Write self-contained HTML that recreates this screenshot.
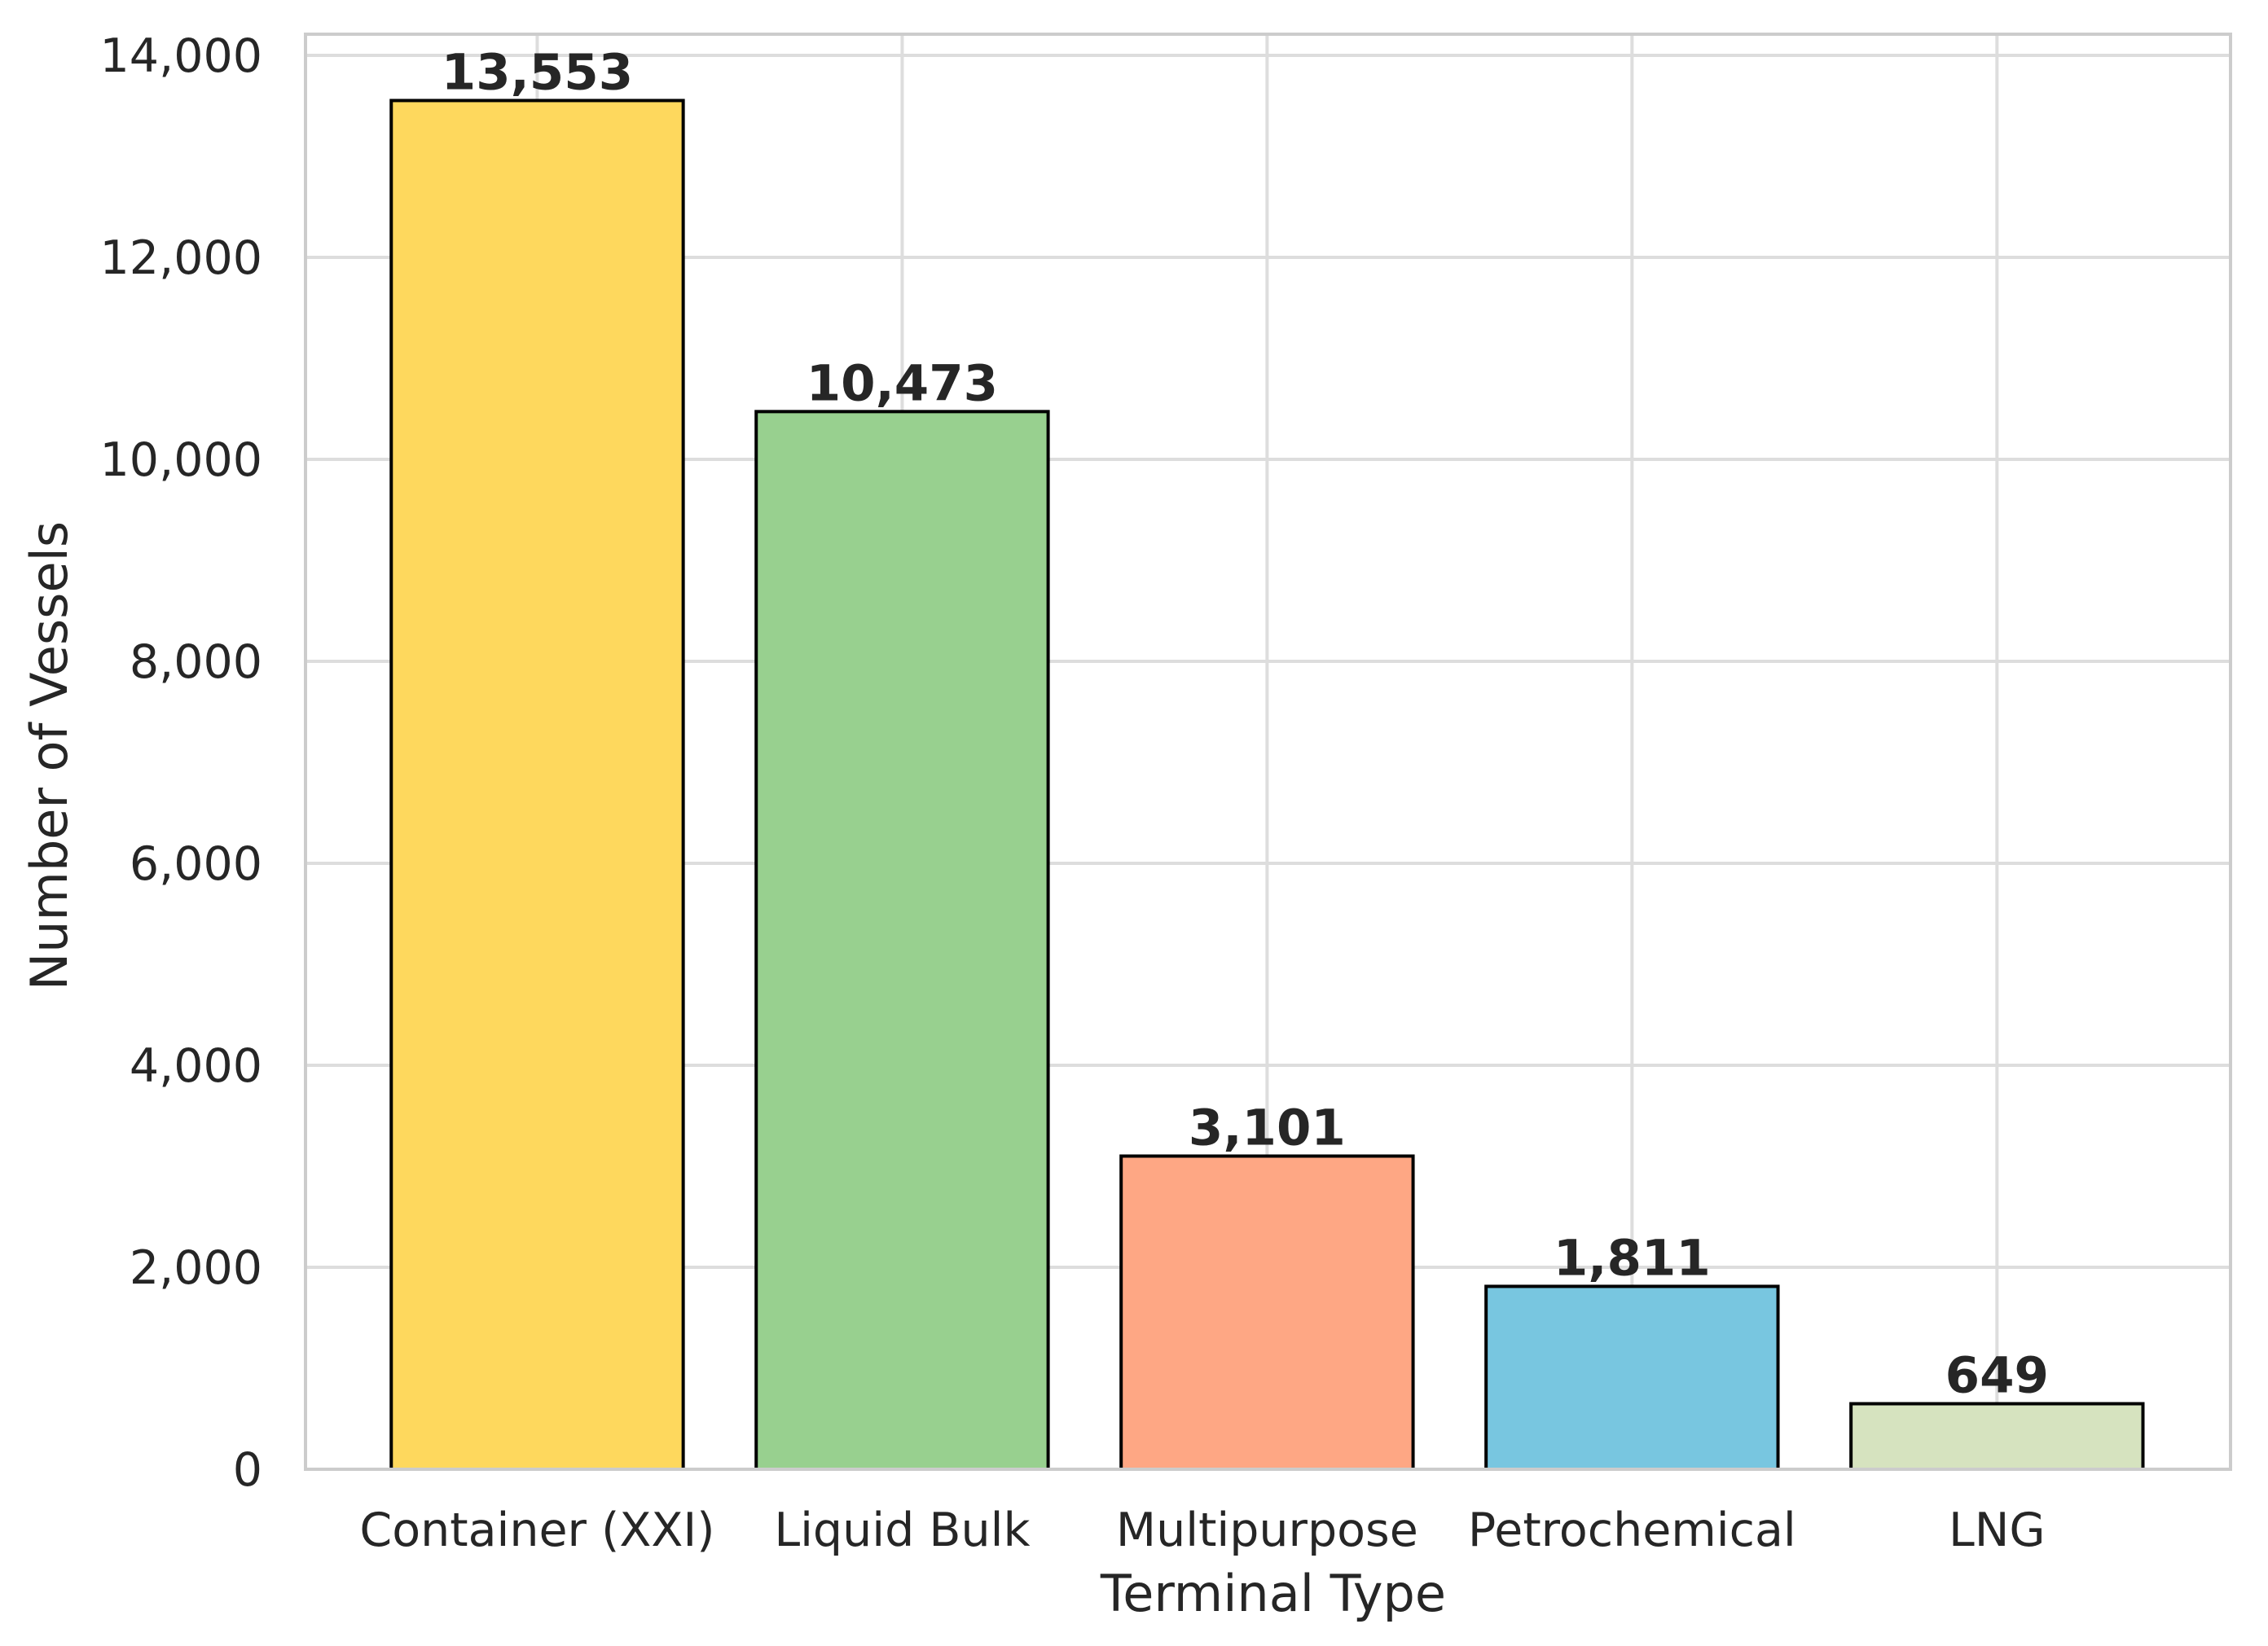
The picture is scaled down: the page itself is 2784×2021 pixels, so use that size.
<!DOCTYPE html>
<html><head><meta charset="utf-8"><style>
html,body{margin:0;padding:0;background:#fff}
svg{display:block;font-family:"DejaVu Sans","Liberation Sans",sans-serif}
</style></head><body>
<svg id="chart" width="2784" height="2021" viewBox="0 0 2784 2021">
<g id="grid"></g>
<g id="bars"></g>
<g id="labels"></g>
<rect x="375" y="42" width="2363" height="1762" fill="none" stroke="#cccccc" stroke-width="4"/>
<g id="yticks"></g>
<g id="xticks"></g>
<text x="1563" y="1978" font-size="62" fill="#262626" text-anchor="middle">Terminal Type</text>
<text x="0" y="0" font-size="62" fill="#262626" text-anchor="middle" transform="translate(82,928) rotate(-90)">Number of Vessels</text>
</svg>
<script>
const categories = ["Container (XXI)","Liquid Bulk","Multipurpose","Petrochemical","LNG"];
const values = [13553,10473,3101,1811,649];
const colors = ["#fed85d","#98d08f","#fea784","#78c6e0","#d6e3bf"];
const yTicks = [0,2000,4000,6000,8000,10000,12000,14000];
const NS="http://www.w3.org/2000/svg";
const L=375,R=2738,B=1804;
const xMin=-0.635,xMax=4.64;
const yMax=14000,yTop=68;
function xs(v){return L+(v-xMin)/(xMax-xMin)*(R-L);}
function ys(v){return B-(v/yMax)*(B-yTop);}
function mk(t,a,p){const e=document.createElementNS(NS,t);for(const k in a)e.setAttribute(k,a[k]);p.appendChild(e);return e;}
const fmt=v=>v.toLocaleString("en-US");
const grid=document.getElementById("grid"),bars=document.getElementById("bars"),labels=document.getElementById("labels"),yt=document.getElementById("yticks"),xt=document.getElementById("xticks");
yTicks.forEach(t=>{
  const l=mk("line",{x1:L,x2:R,y1:ys(t),y2:ys(t),stroke:"#dddddd","stroke-width":4},grid);
  
  
  const tx=mk("text",{x:322,y:ys(t)+20,"font-size":57,fill:"#262626","text-anchor":"end"},yt);
  tx.textContent=fmt(t);
  
  
});
categories.forEach((c,i)=>{
  const l=mk("line",{x1:xs(i),x2:xs(i),y1:42,y2:B,stroke:"#dddddd","stroke-width":4},grid);
  
  
  const w=(xs(0.4)-xs(-0.4));
  const r=mk("rect",{x:xs(i)-w/2,y:ys(values[i]),width:w,height:B-ys(values[i]),fill:colors[i],stroke:"#000","stroke-width":4},bars);
  
  
  const v=mk("text",{x:xs(i),y:ys(values[i])-14,"font-size":61,"font-weight":"bold",fill:"#262626","text-anchor":"middle"},labels);
  v.textContent=fmt(values[i]);
  
  
  const tx=mk("text",{x:xs(i),y:1898,"font-size":57,fill:"#262626","text-anchor":"middle"},xt);
  tx.textContent=c;
  
  
});
</script>
</body></html>
